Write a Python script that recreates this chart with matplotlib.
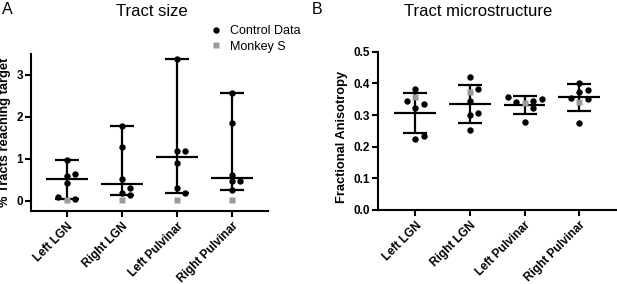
import numpy as np
import matplotlib.pyplot as plt
from matplotlib.lines import Line2D

plt.rcParams['font.family'] = ['Liberation Sans', 'DejaVu Sans']

# Données
regions = ["Left LGN", "Right LGN", "Left Pulvinar", "Right Pulvinar"]

# Panneau A : % de tracts atteignant la cible (6 contrôles par région)
size_ctrl = [
    [0.96, 0.63, 0.59, 0.42, 0.09, 0.03],
    [1.78, 1.29, 0.52, 0.29, 0.17, 0.13],
    [3.37, 1.18, 1.18, 0.90, 0.29, 0.17],
    [2.57, 1.85, 0.62, 0.46, 0.46, 0.25],
]
size_monkey = [0.01, 0.01, 0.02, 0.01]

# Panneau B : anisotropie fractionnelle
fa_ctrl = [
    [0.382, 0.344, 0.335, 0.322, 0.235, 0.225],
    [0.421, 0.382, 0.345, 0.306, 0.299, 0.253],
    [0.358, 0.350, 0.344, 0.342, 0.323, 0.279],
    [0.402, 0.378, 0.374, 0.355, 0.350, 0.276],
]
fa_monkey = [0.356, 0.374, 0.338, 0.340]

grey = '#9b9b9b'


def swarm(ax, x0, monkey, ctrl, diam=6.5, step=8.5):
    # placement glouton façon "beeswarm" : le singe d'abord, puis les contrôles
    pts = [monkey] + sorted(ctrl)
    placed = []
    offs = []
    ppx = ax.transData.transform([(0, 0), (1, 1)])
    sx = ppx[1, 0] - ppx[0, 0]
    sy = ppx[1, 1] - ppx[0, 1]
    for v in pts:
        y = v * sy
        for k in [0, 1, -1, 2, -2, 3, -3]:
            x = k * step
            if all(np.hypot(x - px, y - py) >= diam for px, py in placed):
                break
        placed.append((x, y))
        offs.append(x0 + x / sx)
    return offs[0], offs[1:], sorted(ctrl)


def draw_panel(ax, ctrl, monkey, kind):
    for i, vals in enumerate(ctrl):
        v = np.array(vals)
        if kind == 'median':
            c, lo, hi = np.median(v), v.min(), v.max()
        else:
            c = v.mean()
            sd = v.std(ddof=1)
            lo, hi = c - sd, c + sd
        ax.vlines(i, lo, hi, color='black', lw=1.6, zorder=2)
        ax.hlines([lo, hi], i - 0.22, i + 0.22, color='black', lw=1.6, zorder=2)
        ax.hlines(c, i - 0.38, i + 0.38, color='black', lw=1.6, zorder=2)
        mx, cx, cv = swarm(ax, i, monkey[i], vals)
        ax.plot(cx, cv, 'o', color='black', ms=4.6, mec='none', zorder=3)
        ax.plot([mx], [monkey[i]], 's', color=grey, ms=4.2, mec='none', zorder=4)

    ax.set_xticks(range(len(regions)))
    ax.set_xticklabels(regions, rotation=45, ha='right', rotation_mode='anchor',
                       fontsize=9, fontweight='bold')
    for s in ['top', 'right']:
        ax.spines[s].set_visible(False)
    for s in ['left', 'bottom']:
        ax.spines[s].set_linewidth(1.5)
    ax.tick_params(width=1.5, length=4.3, labelsize=8.5)
    ax.tick_params(axis='y', pad=1.2)
    ax.tick_params(axis='x', pad=2.5)
    for lab in ax.get_yticklabels():
        lab.set_fontweight('bold')


fig = plt.figure(figsize=(6.17, 2.84), dpi=100)

axA = fig.add_axes([31/617, 1 - 211/284, 237/617, 157/284])
axA.set_xlim(-0.65, 3.66)
axA.set_ylim(-0.25, 3.5)
axA.set_yticks([0, 1, 2, 3])
draw_panel(axA, size_ctrl, size_monkey, 'median')
axA.set_ylabel("% Tracts reaching target", fontsize=9.3, fontweight='bold')
axA.yaxis.set_label_coords(-20/237, 0.5)

axB = fig.add_axes([378/617, 1 - 210/284, 239/617, 158.3/284])
axB.set_xlim(-0.68, 3.69)
axB.set_ylim(0, 0.5)
axB.set_yticks([0.0, 0.1, 0.2, 0.3, 0.4, 0.5])
axB.set_yticklabels([f"{t:.1f}" for t in [0.0, 0.1, 0.2, 0.3, 0.4, 0.5]])
draw_panel(axB, fa_ctrl, fa_monkey, 'mean')
axB.set_ylabel("Fractional Anisotropy", fontsize=9.3, fontweight='bold')
axB.yaxis.set_label_coords(-30/239, 0.46)

fig.text(152/617, 1 - 12/284, "Tract size", fontsize=12, ha='center', va='center')
fig.text(478/617, 1 - 12/284, "Tract microstructure", fontsize=12, ha='center', va='center')
fig.text(2/617, 1 - 10/284, "A", fontsize=11.5, ha='left', va='center')
fig.text(312/617, 1 - 10/284, "B", fontsize=11.5, ha='left', va='center')

handles = [
    Line2D([], [], marker='o', ls='none', color='black', ms=4.6, mec='none'),
    Line2D([], [], marker='s', ls='none', color=grey, ms=4.2, mec='none'),
]
fig.legend(handles, ["Control Data", "Monkey S"], loc='center left',
           bbox_to_anchor=(203/617, 1 - 39/284), frameon=False, fontsize=9,
           handlelength=1.0, handletextpad=0.7, labelspacing=0.25, borderpad=0)

fig.savefig("out.png", dpi=100)
